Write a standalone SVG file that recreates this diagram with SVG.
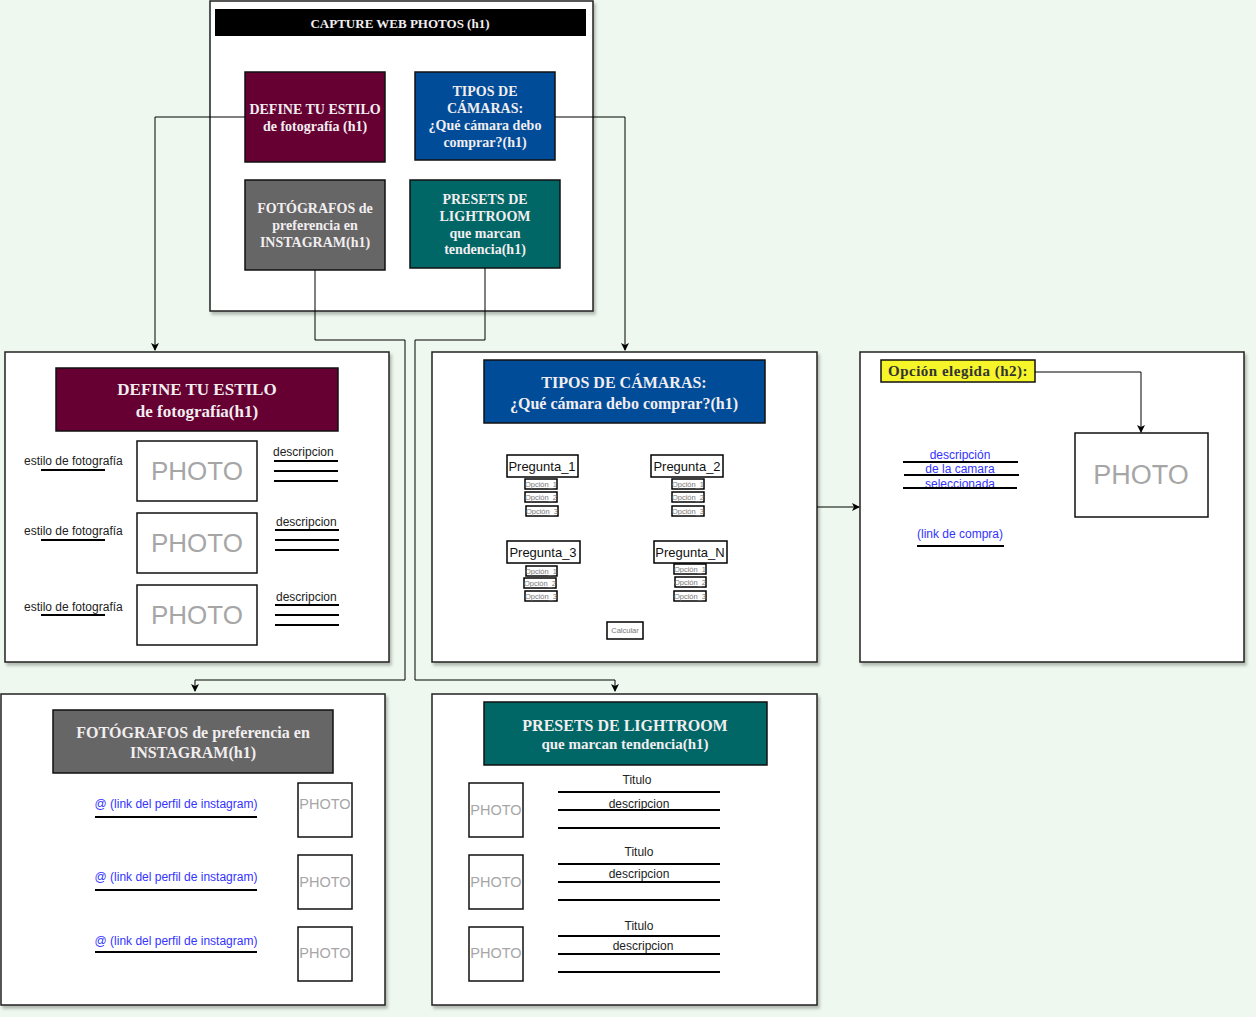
<svg xmlns="http://www.w3.org/2000/svg" width="1256" height="1017" viewBox="0 0 1256 1017">
<defs>
<filter id="sh" x="-5%" y="-5%" width="110%" height="110%"><feDropShadow dx="2" dy="3" stdDeviation="1.5" flood-color="#000" flood-opacity="0.25"/></filter>
<marker id="ar" markerWidth="8" markerHeight="8" refX="7" refY="4" orient="auto" markerUnits="userSpaceOnUse"><path d="M0,0 L8,4 L0,8 L2,4 Z" fill="#000"/></marker>
<style>
.frame{fill:#fff;stroke:#222;stroke-width:1.5}
.hd{font-family:"Liberation Serif",serif;font-weight:bold;fill:#f2eef0;text-anchor:middle}
.ph{fill:#fff;stroke:#111;stroke-width:1.5}
.pt{font-family:"Liberation Sans",Arial,sans-serif;fill:#a6a6a6;text-anchor:middle}
.tx{font-family:"Liberation Sans",Arial,sans-serif;fill:#222;font-size:12px}
.bl{font-family:"Liberation Sans",Arial,sans-serif;fill:#3333ff;font-size:12px;text-anchor:middle}
.ul{stroke:#000;stroke-width:2;fill:none}
.cn{stroke:#000;stroke-width:1;fill:none}
.q{fill:#fff;stroke:#000;stroke-width:1.5}
.qt{font-family:"Liberation Sans",Arial,sans-serif;fill:#111;font-size:13px;text-anchor:middle}
.o{fill:#fff;stroke:#000;stroke-width:1.5}
.ot{font-family:"Liberation Sans",Arial,sans-serif;fill:#777;font-size:7.5px;text-anchor:middle}
</style>
</defs>
<rect width="1256" height="1017" fill="#eef8ee"/>

<g id="main">
<rect class="frame" x="210" y="1" width="383" height="310" filter="url(#sh)"/>
<rect x="215" y="9" width="371" height="27" fill="#000"/>
<text class="hd" x="400" y="28" font-size="13" fill="#fff">CAPTURE WEB PHOTOS (h1)</text>
</g>

<g id="btn-define">
<rect x="245" y="72" width="140" height="90" fill="#660033" stroke="#111" stroke-width="1.5"/>
<text class="hd" font-size="14" x="315" y="114">DEFINE TU ESTILO</text>
<text class="hd" font-size="14" x="315" y="131">de fotografía (h1)</text>
</g>
<g id="btn-tipos">
<rect x="415" y="72" width="140" height="88" fill="#004c99" stroke="#111" stroke-width="1.5"/>
<text class="hd" font-size="14" x="485" y="96">TIPOS DE</text>
<text class="hd" font-size="14" x="485" y="113">CÁMARAS:</text>
<text class="hd" font-size="14" x="485" y="130">¿Qué cámara debo</text>
<text class="hd" font-size="14" x="485" y="147">comprar?(h1)</text>
</g>
<g id="btn-fotografos">
<rect x="245" y="180" width="140" height="90" fill="#666666" stroke="#111" stroke-width="1.5"/>
<text class="hd" font-size="14" x="315" y="213">FOTÓGRAFOS de</text>
<text class="hd" font-size="14" x="315" y="230">preferencia en</text>
<text class="hd" font-size="14" x="315" y="247">INSTAGRAM(h1)</text>
</g>
<g id="btn-presets">
<rect x="410" y="180" width="150" height="88" fill="#006666" stroke="#111" stroke-width="1.5"/>
<text class="hd" font-size="14" x="485" y="204">PRESETS DE</text>
<text class="hd" font-size="14" x="485" y="221">LIGHTROOM</text>
<text class="hd" font-size="14" x="485" y="238">que marcan</text>
<text class="hd" font-size="14" x="485" y="254">tendencia(h1)</text>
</g>

<g id="page-define">
<rect class="frame" x="5" y="352" width="384" height="310" filter="url(#sh)"/>
<rect x="56" y="368" width="282" height="63" fill="#660033" stroke="#111" stroke-width="1.5"/>
<text class="hd" font-size="17" x="197" y="395">DEFINE TU ESTILO</text>
<text class="hd" font-size="17" x="197" y="417">de fotografía(h1)</text>
<rect class="ph" x="137" y="441" width="120" height="60"/>
<text class="pt" font-size="26" x="197" y="480">PHOTO</text>
<rect class="ph" x="137" y="513" width="120" height="60"/>
<text class="pt" font-size="26" x="197" y="552">PHOTO</text>
<rect class="ph" x="137" y="585" width="120" height="60"/>
<text class="pt" font-size="26" x="197" y="624">PHOTO</text>
<text class="tx" x="24" y="465">estilo de fotografía</text>
<line class="ul" x1="41" y1="470" x2="105" y2="470"/>
<text class="tx" x="24" y="535">estilo de fotografía</text>
<line class="ul" x1="41" y1="540" x2="105" y2="540"/>
<text class="tx" x="24" y="611">estilo de fotografía</text>
<line class="ul" x1="41" y1="615" x2="105" y2="615"/>
<text class="tx" x="273" y="456">descripcion</text>
<line class="ul" x1="274" y1="461" x2="338" y2="461"/>
<line class="ul" x1="274" y1="471" x2="338" y2="471"/>
<line class="ul" x1="274" y1="481" x2="338" y2="481"/>
<text class="tx" x="276" y="526">descripcion</text>
<line class="ul" x1="275" y1="530" x2="339" y2="530"/>
<line class="ul" x1="275" y1="540" x2="339" y2="540"/>
<line class="ul" x1="275" y1="550" x2="339" y2="550"/>
<text class="tx" x="276" y="601">descripcion</text>
<line class="ul" x1="275" y1="605" x2="339" y2="605"/>
<line class="ul" x1="275" y1="615" x2="339" y2="615"/>
<line class="ul" x1="275" y1="625" x2="339" y2="625"/>
</g>

<g id="page-tipos">
<rect class="frame" x="432" y="352" width="385" height="310" filter="url(#sh)"/>
<rect x="484" y="360" width="281" height="63" fill="#004c99" stroke="#111" stroke-width="1.5"/>
<text class="hd" font-size="16" x="624" y="388">TIPOS DE CÁMARAS:</text>
<text class="hd" font-size="16" x="624" y="409">¿Qué cámara debo comprar?(h1)</text>
<rect class="q" x="507" y="455" width="71" height="22"/>
<text class="qt" x="542" y="471">Pregunta_1</text>
<rect class="o" x="525" y="479" width="32" height="10"/><text class="ot" x="541" y="487">Opción_1</text>
<rect class="o" x="525" y="492" width="32" height="10"/><text class="ot" x="541" y="500">Opción_2</text>
<rect class="o" x="526" y="506" width="32" height="10"/><text class="ot" x="542" y="514">Opción_3</text>
<rect class="q" x="651" y="455" width="72" height="22"/>
<text class="qt" x="687" y="471">Pregunta_2</text>
<rect class="o" x="672" y="479" width="32" height="10"/><text class="ot" x="688" y="487">Opción_1</text>
<rect class="o" x="672" y="492" width="32" height="10"/><text class="ot" x="688" y="500">Opción_2</text>
<rect class="o" x="672" y="506" width="32" height="10"/><text class="ot" x="688" y="514">Opción_3</text>
<rect class="q" x="507" y="541" width="73" height="22"/>
<text class="qt" x="543" y="557">Pregunta_3</text>
<rect class="o" x="526" y="566" width="31" height="10"/><text class="ot" x="541" y="574">Opción_1</text>
<rect class="o" x="524" y="578" width="32" height="10"/><text class="ot" x="540" y="586">Opción_2</text>
<rect class="o" x="525" y="591" width="32" height="10"/><text class="ot" x="541" y="599">Opción_3</text>
<rect class="q" x="654" y="541" width="73" height="22"/>
<text class="qt" x="690" y="557">Pregunta_N</text>
<rect class="o" x="674" y="564" width="32" height="10"/><text class="ot" x="690" y="572">Opción_1</text>
<rect class="o" x="675" y="577" width="31" height="10"/><text class="ot" x="690" y="585">Opción_2</text>
<rect class="o" x="674" y="591" width="32" height="10"/><text class="ot" x="690" y="599">Opción_3</text>
<rect class="o" x="607" y="622" width="36" height="17"/>
<text class="ot" x="625" y="633">Calcular</text>
</g>

<g id="page-opcion">
<rect class="frame" x="860" y="352" width="384" height="310" filter="url(#sh)"/>
<rect x="881" y="360" width="154" height="22" fill="#f5f52a" stroke="#111" stroke-width="1.5"/>
<text x="958" y="376" font-family="Liberation Serif,serif" font-weight="bold" font-size="15" letter-spacing="0.5" fill="#333" text-anchor="middle">Opción elegida (h2):</text>
<rect class="ph" x="1075" y="433" width="133" height="84"/>
<text class="pt" font-size="27" x="1141" y="484">PHOTO</text>
<text class="bl" x="960" y="459">descripción</text>
<text class="bl" x="960" y="473">de la camara</text>
<text class="bl" x="960" y="488">seleccionada</text>
<line class="ul" x1="903" y1="462" x2="1018" y2="462"/>
<line class="ul" x1="904" y1="475" x2="1019" y2="475"/>
<line class="ul" x1="903" y1="488" x2="1017" y2="488"/>
<text class="bl" x="960" y="538">(link de compra)</text>
<line class="ul" x1="917" y1="546" x2="1004" y2="546"/>
</g>

<g id="page-fotografos">
<rect class="frame" x="1" y="694" width="384" height="311" filter="url(#sh)"/>
<rect x="53" y="710" width="280" height="63" fill="#666666" stroke="#111" stroke-width="1.5"/>
<text class="hd" font-size="16" x="193" y="738">FOTÓGRAFOS de preferencia en</text>
<text class="hd" font-size="16" x="193" y="758">INSTAGRAM(h1)</text>
<text class="bl" x="176" y="808">@ (link del perfil de instagram)</text>
<line class="ul" x1="95" y1="817" x2="257" y2="817"/>
<text class="bl" x="176" y="881">@ (link del perfil de instagram)</text>
<line class="ul" x1="95" y1="890" x2="257" y2="890"/>
<text class="bl" x="176" y="945">@ (link del perfil de instagram)</text>
<line class="ul" x1="95" y1="952" x2="257" y2="952"/>
<rect class="ph" x="298" y="783" width="54" height="54"/>
<text class="pt" font-size="14.5" x="325" y="809">PHOTO</text>
<rect class="ph" x="298" y="855" width="54" height="54"/>
<text class="pt" font-size="14.5" x="325" y="887">PHOTO</text>
<rect class="ph" x="298" y="927" width="54" height="54"/>
<text class="pt" font-size="14.5" x="325" y="958">PHOTO</text>
</g>

<g id="page-presets">
<rect class="frame" x="432" y="694" width="385" height="311" filter="url(#sh)"/>
<rect x="484" y="702" width="283" height="63" fill="#006666" stroke="#111" stroke-width="1.5"/>
<text class="hd" font-size="16" x="625" y="731">PRESETS DE LIGHTROOM</text>
<text class="hd" font-size="15" x="625" y="749">que marcan tendencia(h1)</text>
<rect class="ph" x="469" y="783" width="54" height="54"/>
<text class="pt" font-size="14.5" x="496" y="815">PHOTO</text>
<rect class="ph" x="469" y="855" width="54" height="54"/>
<text class="pt" font-size="14.5" x="496" y="887">PHOTO</text>
<rect class="ph" x="469" y="927" width="54" height="54"/>
<text class="pt" font-size="14.5" x="496" y="958">PHOTO</text>
<text class="tx" x="637" y="784" text-anchor="middle">Titulo</text>
<line class="ul" x1="558" y1="792" x2="720" y2="792"/>
<text class="tx" x="639" y="808" text-anchor="middle">descripcion</text>
<line class="ul" x1="558" y1="810" x2="720" y2="810"/>
<line class="ul" x1="558" y1="828" x2="720" y2="828"/>
<text class="tx" x="639" y="856" text-anchor="middle">Titulo</text>
<line class="ul" x1="558" y1="864" x2="720" y2="864"/>
<text class="tx" x="639" y="878" text-anchor="middle">descripcion</text>
<line class="ul" x1="558" y1="882" x2="720" y2="882"/>
<line class="ul" x1="558" y1="900" x2="720" y2="900"/>
<text class="tx" x="639" y="930" text-anchor="middle">Titulo</text>
<line class="ul" x1="558" y1="936" x2="720" y2="936"/>
<text class="tx" x="643" y="950" text-anchor="middle">descripcion</text>
<line class="ul" x1="558" y1="954" x2="720" y2="954"/>
<line class="ul" x1="558" y1="972" x2="720" y2="972"/>
</g>

<g id="connectors">
<path class="cn" d="M245,117 H155 V350" marker-end="url(#ar)"/>
<path class="cn" d="M555,117 H625 V350" marker-end="url(#ar)"/>
<path class="cn" d="M315,270 V340 H405 V680 H195 V691" marker-end="url(#ar)"/>
<path class="cn" d="M485,268 V340 H415 V680 H615 V691" marker-end="url(#ar)"/>
<path class="cn" d="M817,507 H859" marker-end="url(#ar)"/>
<path class="cn" d="M1035,372 H1141 V432" marker-end="url(#ar)"/>
</g>
</svg>
